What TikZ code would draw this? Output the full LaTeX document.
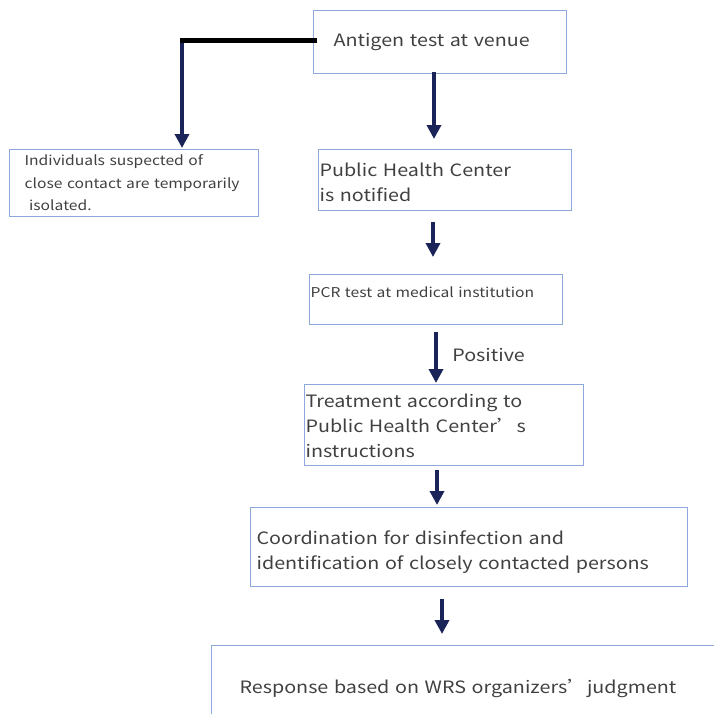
\documentclass[tikz,border=0pt]{standalone}
\usepackage{fontspec}
\setmainfont[FakeStretch=1.16]{Noto Sans CJK JP}
\usetikzlibrary{arrows.meta}
\definecolor{boxline}{HTML}{8FA8DC}
\definecolor{navy}{HTML}{1B2459}
\definecolor{txt}{HTML}{404040}
\newcommand{\fwq}{{\addfontfeature{RawFeature=+fwid}’}}
\tikzset{
  box/.style={draw=boxline, line width=1.2pt, rectangle, anchor=north west, text=txt, align=left, inner xsep=2pt, inner ysep=0pt},
  flow/.style={draw=navy, line width=4pt, -{Triangle[width=14pt,length=14pt]}, shorten >=0pt},
  big/.style={font=\fontsize{17}{25}\selectfont},
  small/.style={font=\fontsize{13.5}{22.5}\selectfont},
}
\begin{document}
\begin{tikzpicture}[x=1pt,y=-1pt]
\useasboundingbox (0,0) rectangle (714,713);
% boxes
\node[box, big, minimum width=253pt, minimum height=63pt, text width=213pt, inner xsep=20pt] (antigen) at (313,10) {Antigen test at venue};
\node[box, small, minimum width=249pt, minimum height=67pt, text width=219pt, inner xsep=15pt] (indiv) at (9,149) {Individuals suspected of\\close contact are temporarily\\\ isolated.};
\node[box, big, minimum width=253pt, minimum height=61pt, text width=251pt, inner xsep=1pt, text depth=20pt] (phc) at (318,149) {Public Health Center\\is notified};
\node[box, small, minimum width=253pt, minimum height=50pt, text width=251pt, inner xsep=1pt, text depth=14pt] (pcr) at (309,274) {PCR test at medical institution};
\node[box, big, minimum width=279pt, minimum height=81pt, text width=277pt, inner xsep=1pt, text depth=48pt] (treat) at (304,384) {Treatment according to\\Public Health Center\fwq s\\instructions};
\node[box, big, minimum width=437pt, minimum height=79pt, text width=425pt, inner xsep=6pt, text depth=19pt] (coord) at (250,507) {Coordination for disinfection and\\identification of closely contacted persons};
\node[box, big, minimum width=520pt, minimum height=86pt, text width=490pt, inner xsep=28pt] (resp) at (211,645) {Response based on WRS organizers\fwq judgment};
% connectors
\coordinate (lstart) at (317,40);
\draw[line width=5pt, black] (lstart) -- (179.5,40) coordinate (cend);
\draw[flow] (182,42.5) -- (182,148);
\draw[flow] (434,72) -- (434,139);
\draw[flow] (433,222) -- (433,257);
\draw[flow] (436,332) -- (436,383) node[pos=0.45, right=11pt, text=txt, font=\fontsize{17}{20}\selectfont] (pos) {Positive};
\draw[flow] (437,470) -- (437,505);
\draw[flow] (442,599) -- (442,634);
\end{tikzpicture}
\end{document}
